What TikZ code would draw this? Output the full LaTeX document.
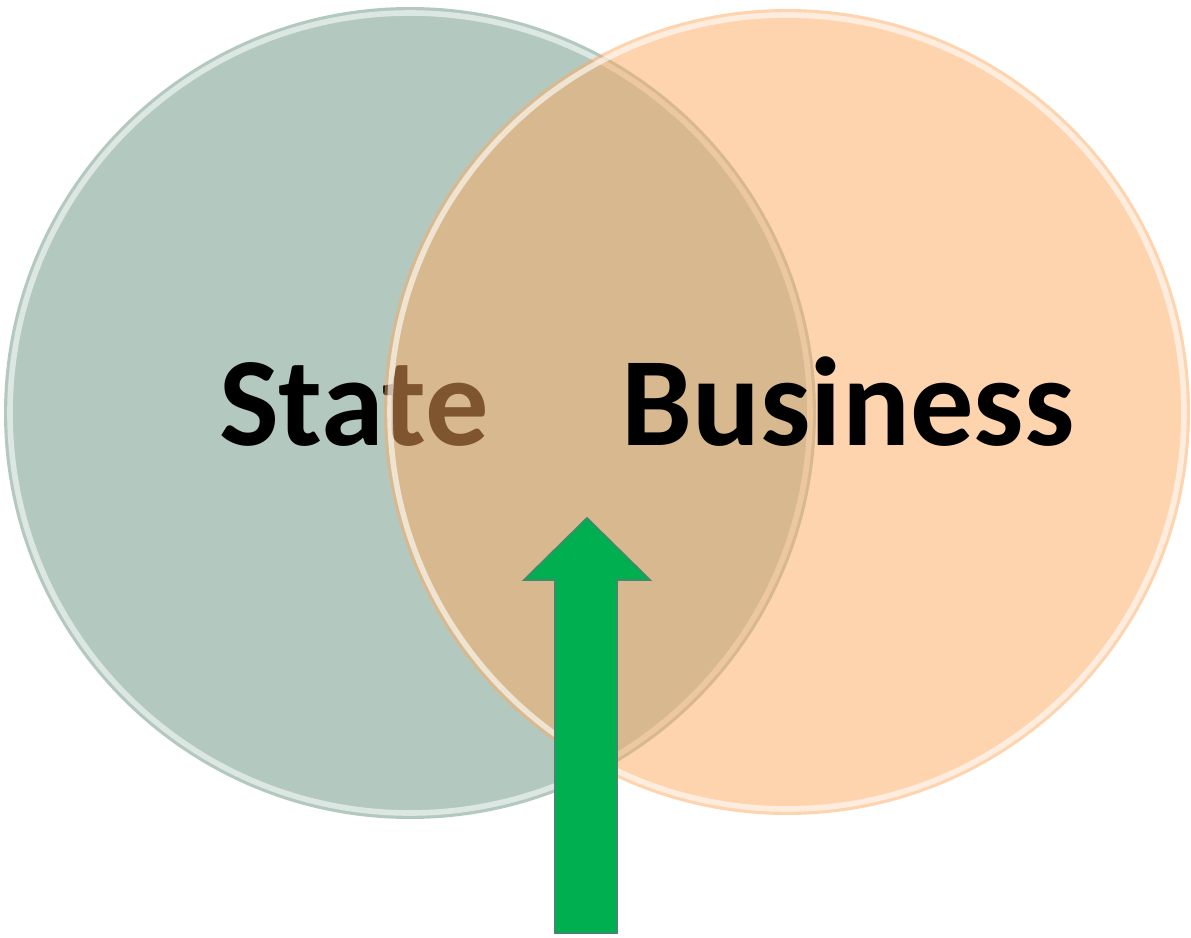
\documentclass[tikz,border=0pt]{standalone}
\usepackage{fontspec}
\setmainfont{Carlito}
\usepackage{xcolor}
\usepackage{tikz}
\usetikzlibrary{calc}

\definecolor{stategreen}{RGB}{179,201,192}
\definecolor{bizorange}{RGB}{254,170,96}
\definecolor{arrowgreen}{RGB}{0,176,80}
\definecolor{arrowedge}{RGB}{62,138,106}

\begin{document}
\begin{tikzpicture}[font=\fontsize{36}{40}\selectfont\bfseries]
  \useasboundingbox (0,0) rectangle (11.91,9.37);
  \coordinate (statec) at (4.10,5.24);
  \coordinate (bizc) at (7.87,5.25);
  % state circle and its label, under the business circle
  \fill[stategreen] (statec) circle (4.06);
  \draw[white,opacity=0.55,line width=1.6pt] (statec) circle (4.00);
  \node[anchor=base,inner sep=0pt] (state) at (3.54,4.92) {State};
  % business circle, half see-through
  \fill[bizorange,opacity=0.5] (bizc) circle (4.03);
  \draw[white,opacity=0.6,line width=1.6pt] (bizc) circle (3.97);
  \node[anchor=base,inner sep=0pt] (biz) at (8.48,4.92) {Business};
  % arrow up into the overlap
  \coordinate (tip) at (5.87,4.19);
  \filldraw[fill=arrowgreen,draw=arrowedge,line width=0.5pt]
    (5.55,0.04) -- (5.55,3.57) -- (5.24,3.57) -- (tip)
    -- (6.50,3.57) -- (6.17,3.57) -- (6.17,0.04) -- cycle;
\end{tikzpicture}
\end{document}
